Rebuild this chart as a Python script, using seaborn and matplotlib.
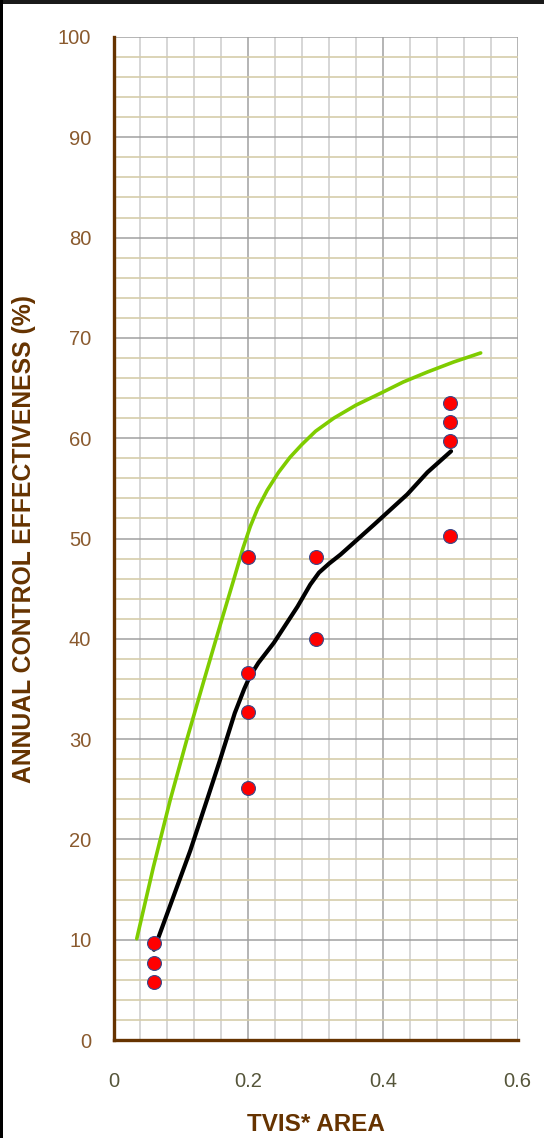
import matplotlib
matplotlib.use("Agg")
import matplotlib.pyplot as plt
from matplotlib.patches import Rectangle
from matplotlib.ticker import MultipleLocator
import pandas as pd
import seaborn as sns

# Observed effectiveness at each TVIS*area level
obs_x = [0.06, 0.06, 0.06, 0.2, 0.2, 0.2, 0.2, 0.3, 0.3, 0.5, 0.5, 0.5, 0.5]
obs_y = [9.7, 7.7, 5.8, 48.2, 36.6, 32.7, 25.1, 48.2, 40.0, 63.5, 61.6, 59.7, 50.2]

# Mean response curve (black)
mean_x = [0.060, 0.090, 0.114, 0.140, 0.158, 0.180, 0.194, 0.202, 0.215, 0.238, 0.273,
          0.292, 0.305, 0.320, 0.337, 0.387, 0.436, 0.466, 0.501]
mean_y = [9.0, 14.5, 18.9, 24.2, 27.9, 32.6, 35.0, 36.2, 37.6, 39.6, 43.2,
          45.4, 46.6, 47.5, 48.4, 51.4, 54.4, 56.6, 58.7]

# Upper envelope curve (green)
env_x = [0.0345, 0.059, 0.084, 0.109, 0.134, 0.158, 0.178, 0.192, 0.203, 0.214, 0.228,
         0.245, 0.262, 0.280, 0.300, 0.327, 0.360, 0.397, 0.430, 0.466, 0.505, 0.545]
env_y = [10.1, 17.2, 23.9, 30.0, 35.8, 41.3, 45.8, 49.0, 51.2, 53.0, 54.8,
         56.6, 58.1, 59.4, 60.7, 62.0, 63.3, 64.5, 65.6, 66.6, 67.6, 68.5]

x_ticks = [0, 0.2, 0.4, 0.6]
x_tick_labels = ["0", "0.2", "0.4", "0.6"]
y_ticks = list(range(0, 101, 10))

BROWN = "#663300"

sns.set_theme(style="white")
plt.rcParams["font.family"] = ["Liberation Sans", "DejaVu Sans"]

fig = plt.figure(figsize=(5.44, 11.38), dpi=100)
fig.patch.set_facecolor("white")
ax = fig.add_axes([0.2087, 0.0861, 0.7430, 0.8814])

obs = pd.DataFrame({"x": obs_x, "y": obs_y})
mean_df = pd.DataFrame({"x": mean_x, "y": mean_y})
env_df = pd.DataFrame({"x": env_x, "y": env_y})

sns.lineplot(data=env_df, x="x", y="y", sort=False, color="#7fcc00",
             linewidth=2.6, ax=ax, zorder=3, solid_capstyle="round",
             solid_joinstyle="round")
sns.lineplot(data=mean_df, x="x", y="y", sort=False, color="black",
             linewidth=3.0, ax=ax, zorder=4, solid_capstyle="round",
             solid_joinstyle="round")
sns.scatterplot(data=obs, x="x", y="y", color="#ff0000", edgecolor="#3a4a8a",
                linewidth=0.8, s=100, ax=ax, zorder=5)

ax.set_xlim(0, 0.6)
ax.set_ylim(0, 100)
ax.set_xticks(x_ticks)
ax.set_xticklabels(x_tick_labels)
ax.set_yticks(y_ticks)
ax.xaxis.set_minor_locator(MultipleLocator(0.04))
ax.yaxis.set_minor_locator(MultipleLocator(2))

ax.grid(False)
ax.grid(which="major", axis="both", color="#a0a0a0", linewidth=1.1, zorder=1)
ax.grid(which="minor", axis="x", color="#cccccc", linewidth=1.1, zorder=0)
ax.grid(which="minor", axis="y", color="#d6cdaa", linewidth=1.2, zorder=0)
ax.set_axisbelow(True)

for side in ("top", "right"):
    ax.spines[side].set_visible(False)
for side in ("left", "bottom"):
    ax.spines[side].set_color(BROWN)
    ax.spines[side].set_linewidth(2.4)

ax.tick_params(axis="y", which="major", direction="out", length=5, width=2.4,
               color=BROWN, labelsize=14.5, labelcolor="#8a5a2e", pad=11)
ax.tick_params(axis="x", which="major", direction="out", length=5, width=2.4,
               color=BROWN, labelsize=14.5, labelcolor="#55553a", pad=18)
ax.tick_params(which="minor", length=0)

ax.set_xlabel("TVIS* AREA", fontsize=17.5, fontweight="bold", color=BROWN, labelpad=16)
ax.set_ylabel("ANNUAL CONTROL EFFECTIVENESS (%)", fontsize=17.8, fontweight="bold",
              color=BROWN, labelpad=16)

# dark frame strips along the top and left edges of the figure
fig.patches.append(Rectangle((0, 1 - 4 / 1138), 1, 4 / 1138, transform=fig.transFigure,
                             facecolor="#1a1a1a", edgecolor="none", zorder=10))
fig.patches.append(Rectangle((0, 0), 3 / 544, 1, transform=fig.transFigure,
                             facecolor="black", edgecolor="none", zorder=10))

fig.savefig("out.png", dpi=100)
